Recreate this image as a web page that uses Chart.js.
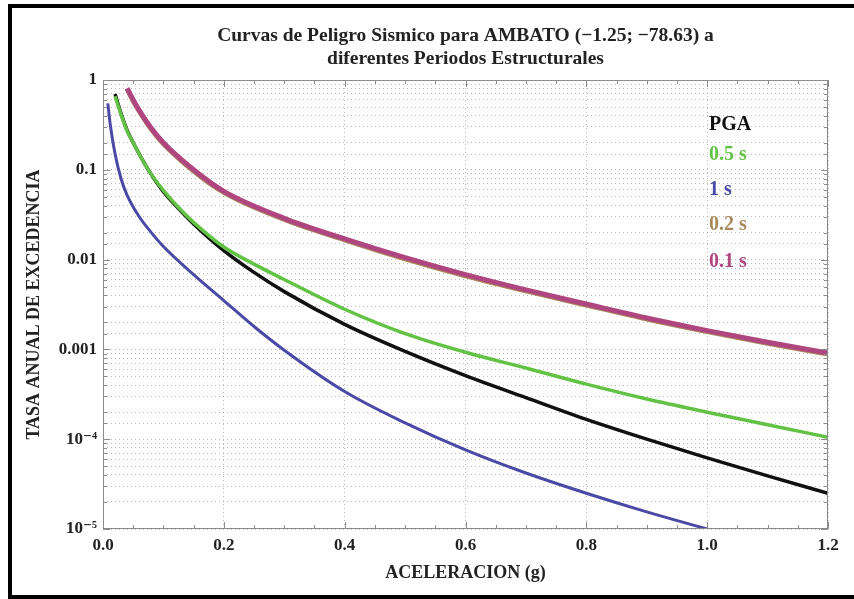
<!DOCTYPE html>
<html>
<head>
<meta charset="utf-8">
<script src="https://cdn.jsdelivr.net/npm/chart.js@4/dist/chart.umd.min.js"></script>
<style>
  html, body { margin: 0; padding: 0; background: #fff; }
  #wrap { width: 854px; height: 599px; }
</style>
</head>
<body>
<div id="wrap"><canvas id="hazardChart" width="854" height="599"></canvas></div>
<script>
// Curvas de peligro sismico - AMBATO
const seriesLabels = ['PGA', '0.5 s', '1 s', '0.2 s', '0.1 s'];
const seriesColors = ['#111111', '#62c244', '#4a4aa6', '#a88a5a', '#b0467f'];

const pgaX = [0.02, 0.03, 0.04, 0.05, 0.075, 0.1, 0.125, 0.15, 0.2, 0.25, 0.3, 0.4, 0.5, 0.6, 0.7, 0.8, 0.9, 1.0, 1.1, 1.2];
const pgaY = [0.7, 0.42, 0.275, 0.2, 0.1, 0.057, 0.037, 0.025, 0.0126, 0.0072, 0.0044, 0.0019, 0.00095, 0.00051, 0.00029, 0.000166, 0.0001, 0.000062, 0.000039, 0.000025];

const s05X = [0.02, 0.03, 0.04, 0.05, 0.075, 0.1, 0.125, 0.15, 0.2, 0.25, 0.3, 0.4, 0.5, 0.6, 0.7, 0.8, 0.9, 1.0, 1.1, 1.2];
const s05Y = [0.66, 0.41, 0.27, 0.2, 0.1, 0.059, 0.038, 0.026, 0.0138, 0.0089, 0.006, 0.0028, 0.0015, 0.00093, 0.00062, 0.00041, 0.00028, 0.0002, 0.000145, 0.000105];

const s1X = [0.008, 0.012, 0.02, 0.03, 0.04, 0.06, 0.08, 0.1, 0.15, 0.2, 0.25, 0.3, 0.4, 0.5, 0.6, 0.7, 0.8, 0.9, 1.0];
const s1Y = [0.55, 0.32, 0.15, 0.079, 0.052, 0.03, 0.02, 0.014, 0.0068, 0.0035, 0.0018, 0.00098, 0.00034, 0.000152, 0.000076, 0.000042, 0.000025, 0.0000155, 0.00001];

const s02X = [0.04, 0.05, 0.06, 0.08, 0.1, 0.15, 0.2, 0.3, 0.4, 0.5, 0.6, 0.7, 0.8, 0.9, 1.0, 1.1, 1.2];
const s02Y = [0.79, 0.585, 0.45, 0.283, 0.195, 0.097, 0.056, 0.028, 0.0166, 0.0102, 0.0066, 0.00448, 0.00311, 0.00218, 0.00158, 0.00117, 0.00089];

const s01X = [0.04, 0.05, 0.06, 0.08, 0.1, 0.15, 0.2, 0.3, 0.4, 0.5, 0.6, 0.7, 0.8, 0.9, 1.0, 1.1, 1.2];
const s01Y = [0.81, 0.6, 0.46, 0.29, 0.2, 0.1, 0.0575, 0.0288, 0.017, 0.0105, 0.0068, 0.0046, 0.0032, 0.00224, 0.00162, 0.0012, 0.00091];

const yTickValues = [1, 0.1, 0.01, 0.001, 0.0001, 0.00001];
const yTickLabels = ['1', '0.1', '0.01', '0.001', '10\u207B\u2074', '10\u207B\u2075'];
const xTickLabels = ['0.0', '0.2', '0.4', '0.6', '0.8', '1.0', '1.2'];

const serif = '"Liberation Serif", "DejaVu Serif", serif';

function pts(xs, ys) {
    return xs.map((x, i) => ({ x: x, y: ys[i] }));
}

function isDecade(v) {
    const l = Math.log10(v);
    return Math.abs(l - Math.round(l)) < 1e-6;
}

function isMajorX(v) {
    return Math.round(v * 100) % 20 === 0;
}

// white page with the black frame round it
const framePlugin = {
    id: 'frame',
    beforeDraw(chart) {
        const c = chart.ctx;
        c.save();
        c.fillStyle = '#fff';
        c.fillRect(0, 0, chart.width, chart.height);
        c.strokeStyle = '#000';
        c.lineWidth = 4;
        c.strokeRect(10, 6, 900, 591);
        c.restore();
    },
    afterDatasetsDraw(chart) {
        const a = chart.chartArea;
        const c = chart.ctx;
        const xs = chart.scales.x, ys = chart.scales.y;
        c.save();
        c.strokeStyle = '#8c8c8c';
        c.lineWidth = 1;
        c.strokeRect(a.left + 0.5, a.top + 0.5, a.right - a.left - 1, a.bottom - a.top - 1);
        c.beginPath();
        xs.ticks.forEach(t => {
            const px = Math.round(xs.getPixelForValue(t.value)) + 0.5;
            const len = isMajorX(t.value) ? 7 : 4;
            c.moveTo(px, a.bottom); c.lineTo(px, a.bottom - len);
            c.moveTo(px, a.top); c.lineTo(px, a.top + len);
        });
        ys.ticks.forEach(t => {
            const py = Math.round(ys.getPixelForValue(t.value)) + 0.5;
            const len = isDecade(t.value) ? 7 : 4;
            c.moveTo(a.left, py); c.lineTo(a.left + len, py);
            c.moveTo(a.right, py); c.lineTo(a.right - len, py);
        });
        c.stroke();

        // legend as coloured text inside the plot
        c.font = 'bold 20px ' + serif;
        c.textAlign = 'left';
        c.textBaseline = 'middle';
        const lx = a.left + 606;
        const rows = [45, 75, 110, 145, 182];
        seriesLabels.forEach((lab, i) => {
            c.fillStyle = seriesColors[i];
            c.fillText(lab, lx, a.top + rows[i]);
        });
        c.restore();
    }
};

document.addEventListener('DOMContentLoaded', function() {
    const ctx = document.getElementById('hazardChart').getContext('2d');

    const xsets = [pgaX, s05X, s1X, s02X, s01X];
    const ysets = [pgaY, s05Y, s1Y, s02Y, s01Y];
    const widths = [3.5, 3.5, 3, 5, 5];
    const orders = [2, 1, 3, 5, 4];

    const datasets = seriesLabels.map((lab, i) => ({
        label: lab,
        data: pts(xsets[i], ysets[i]),
        borderColor: seriesColors[i],
        backgroundColor: seriesColors[i],
        borderWidth: widths[i],
        pointRadius: 0,
        cubicInterpolationMode: 'monotone',
        fill: false,
        order: orders[i]
    }));

    new Chart(ctx, {
        type: 'line',
        data: { datasets: datasets },
        options: {
            responsive: false,
            animation: false,
            layout: { padding: { left: 12, right: 26, top: 0, bottom: 10 } },
            plugins: {
                legend: { display: false },
                tooltip: { enabled: false },
                title: {
                    display: true,
                    fullSize: false,
                    text: ['Curvas de Peligro Sismico para AMBATO (\u22121.25; \u221278.63) a', 'diferentes Periodos Estructurales'],
                    color: '#222',
                    font: { family: serif, size: 19.5, weight: 'bold', lineHeight: 1.18 },
                    padding: { top: 24, bottom: 10 }
                }
            },
            scales: {
                x: {
                    type: 'linear',
                    min: 0,
                    max: 1.2,
                    afterFit: function(scale) { scale.height = 60; },
                    ticks: {
                        stepSize: 0.05,
                        autoSkip: false,
                        maxRotation: 0,
                        padding: 6,
                        color: '#222',
                        font: { family: serif, size: 17, weight: 'bold' },
                        callback: function(v) {
                            if (!isMajorX(v)) return '';
                            return xTickLabels[Math.round(v * 5)];
                        }
                    },
                    grid: {
                        drawTicks: false,
                        color: function(c) {
                            return (c.tick && isMajorX(c.tick.value)) ? 'rgba(130,130,130,0.55)' : 'rgba(0,0,0,0)';
                        }
                    },
                    border: { display: false, dash: [1, 3] },
                    title: {
                        display: true,
                        text: 'ACELERACION (g)',
                        color: '#222',
                        font: { family: serif, size: 18, weight: 'bold', lineHeight: 1.2 },
                        padding: { top: 0, bottom: 5 }
                    }
                },
                y: {
                    type: 'logarithmic',
                    min: 0.00001,
                    max: 1,
                    afterFit: function(scale) { scale.width = 91; },
                    ticks: {
                        autoSkip: false,
                        padding: 6,
                        color: '#222',
                        font: { family: serif, size: 17, weight: 'bold' },
                        callback: function(v) {
                            const i = yTickValues.findIndex(t => Math.abs(Math.log10(t) - Math.log10(v)) < 1e-6);
                            return i >= 0 ? yTickLabels[i] : '';
                        }
                    },
                    grid: {
                        drawTicks: false,
                        color: 'rgba(130,130,130,0.55)'
                    },
                    border: { display: false, dash: [1, 3] },
                    title: {
                        display: true,
                        text: 'TASA ANUAL DE EXCEDENCIA',
                        color: '#222',
                        font: { family: serif, size: 18, weight: 'bold', lineHeight: 1.2 },
                        padding: { top: 12, bottom: 0 }
                    }
                }
            }
        },
        plugins: [framePlugin]
    });
});
</script>
</body>
</html>
